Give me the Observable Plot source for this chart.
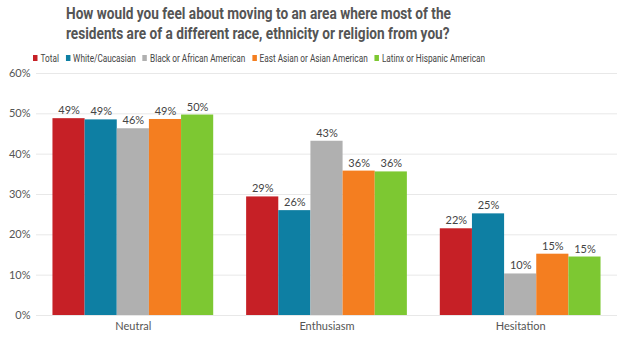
<!DOCTYPE html>
<html>
<head>
<meta charset="utf-8">
<script src="https://cdn.jsdelivr.net/npm/d3@7"></script>
<script src="https://cdn.jsdelivr.net/npm/@observablehq/plot@0.6"></script>
<style>
  body { margin: 0; background: #fff; width: 634px; height: 352px; overflow: hidden; }
  #titleRow { height: 44px; padding-top: 3px; box-sizing: border-box; }
  #title { font-family: Roboto, "Liberation Sans", sans-serif; font-weight: 700; font-size: 17px; line-height: 20px; color: #555; margin-left: 66px; white-space: nowrap; transform-origin: 0 0; display: inline-block; }
  #legendRow { height: 14px; margin-top: 4px; }
  #legend { font-family: Roboto, "Liberation Sans", sans-serif; font-size: 11px; color: #444; height: 14px; line-height: 14px; margin-left: 33px; white-space: nowrap; transform-origin: 0 50%; display: inline-block; }
  #legend span.item { margin-right: 9px; }
  #legend span.item:last-child { margin-right: 0; }
  #legend span.sw { display: inline-block; width: 6px; height: 6px; margin-right: 4px; vertical-align: 1px; }
</style>
</head>
<body>
<div id="titleRow"><div id="title"><span id="t1">How would you feel about moving to an area where most of the</span><br><span id="t2">residents are of a different race, ethnicity or religion from you?</span></div></div>
<div id="legendRow"><div id="legend"></div></div>
<div id="chart"></div>
<script>
const categories = ["Neutral", "Enthusiasm", "Hesitation"];
const seriesNames = ["Total", "White/Caucasian", "Black or African American", "East Asian or Asian American", "Latinx or Hispanic American"];
const colors = ["#C62026", "#0E7FA3", "#B0B0B0", "#F47E20", "#7DC832"];
const total = [48.8, 29.4, 21.5];
const white = [48.5, 26.0, 25.2];
const black = [46.3, 43.2, 10.3];
const asian = [48.6, 35.8, 15.2];
const latinx = [49.7, 35.6, 14.5];
const yTicks = [0, 10, 20, 30, 40, 50, 60];

const seriesValues = [total, white, black, asian, latinx];
const groupWidth = 0.83;
const barW = groupWidth / seriesNames.length;
const rows = [];
categories.forEach((c, gi) => {
  seriesNames.forEach((s, si) => {
    const x1 = gi - groupWidth / 2 + si * barW;
    rows.push({category: c, series: s, value: seriesValues[si][gi], x1, x2: x1 + barW, xm: x1 + barW / 2});
  });
});

const legend = document.getElementById("legend");
seriesNames.forEach((s, i) => {
  const it = document.createElement("span");
  it.className = "item";
  it.innerHTML = `<span class="sw" style="background:${colors[i]}"></span>${s}`;
  legend.appendChild(it);
});

// fit the condensed-looking title and legend to the reference widths
const t1w = document.getElementById("t1").getBoundingClientRect().width;
document.getElementById("title").style.transform = `scaleX(${385 / t1w})`;
const lw = legend.getBoundingClientRect().width;
legend.style.transform = `scaleX(${452 / lw})`;

const chart = Plot.plot({
  width: 634,
  height: 290,
  marginLeft: 36,
  marginRight: 17,
  marginTop: 11,
  marginBottom: 37,
  style: { fontFamily: "Lato, sans-serif", fontSize: "11px", color: "#555", background: "#fff" },
  x: { type: "linear", domain: [-0.5, 2.5], ticks: [0, 1, 2], tickFormat: i => categories[i], tickSize: 0, tickPadding: 7, label: null },
  y: { domain: [0, 60], ticks: yTicks, tickFormat: d => d + "%", tickSize: 0, tickPadding: 6, label: null },
  color: { domain: seriesNames, range: colors },
  marks: [
    Plot.ruleY(yTicks, { stroke: "#e8e8e8", strokeWidth: 1 }),
    Plot.rectY(rows, { x1: "x1", x2: "x2", y: "value", fill: "series" }),
    Plot.text(rows, { x: "xm", y: "value", text: d => Math.round(d.value) + "%", dy: -8, fill: "#444", fontSize: 11 })
  ]
});
document.getElementById("chart").appendChild(chart);
</script>
</body>
</html>
